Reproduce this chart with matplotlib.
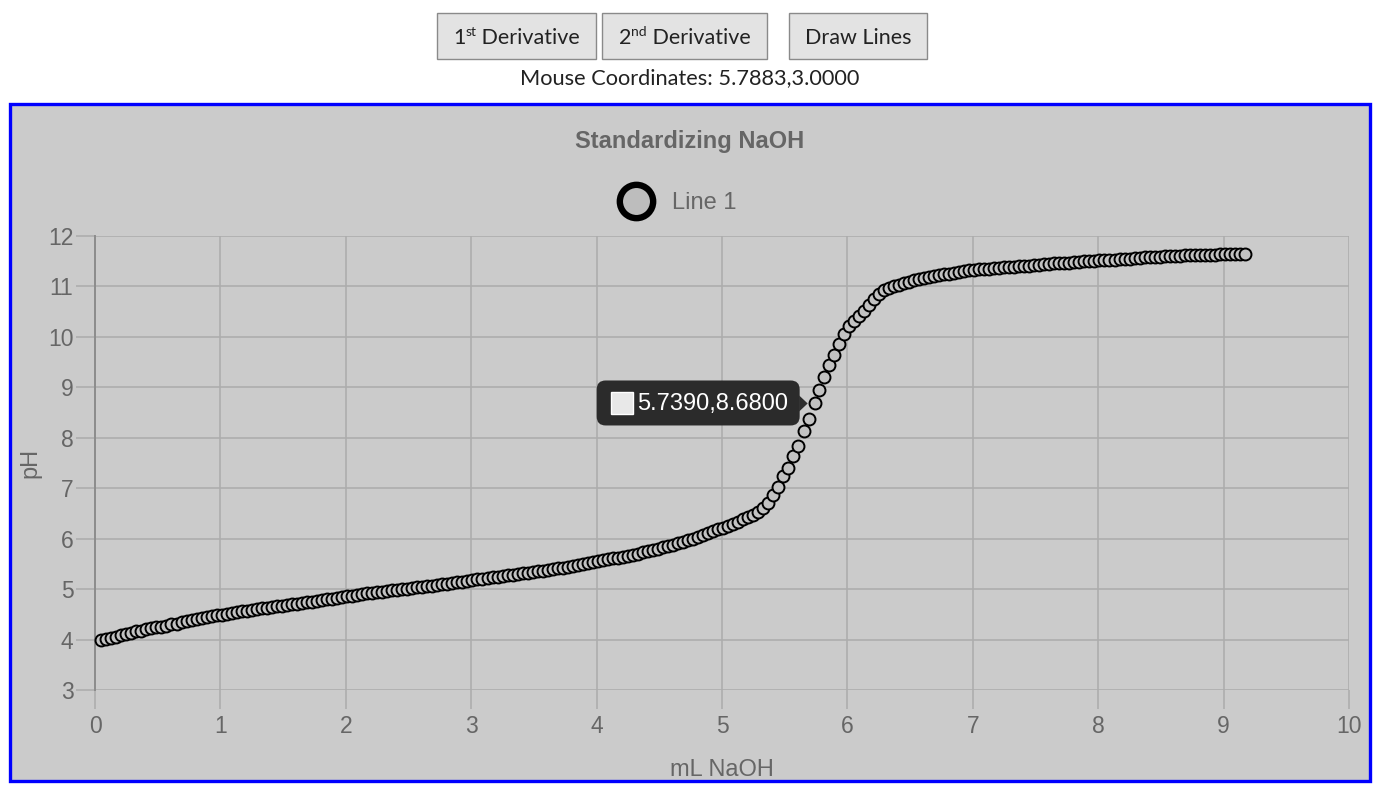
import matplotlib
matplotlib.use('Agg')
import matplotlib.pyplot as plt
from matplotlib.patches import Rectangle, FancyBboxPatch, Polygon
from matplotlib.lines import Line2D
from matplotlib.transforms import IdentityTransform

# ---------------- data ----------------
ml_naoh = [
    0.05, 0.09, 0.13, 0.17, 0.21, 0.25, 0.29, 0.33, 0.37, 0.41,
    0.45, 0.49, 0.53, 0.57, 0.61, 0.65, 0.69, 0.73, 0.77, 0.81,
    0.85, 0.89, 0.93, 0.97, 1.01, 1.05, 1.09, 1.13, 1.17, 1.21,
    1.25, 1.29, 1.33, 1.37, 1.41, 1.45, 1.49, 1.53, 1.57, 1.61,
    1.65, 1.69, 1.73, 1.77, 1.81, 1.85, 1.89, 1.93, 1.97, 2.01,
    2.05, 2.09, 2.13, 2.17, 2.21, 2.25, 2.29, 2.33, 2.37, 2.41,
    2.45, 2.49, 2.53, 2.57, 2.61, 2.65, 2.69, 2.73, 2.77, 2.81,
    2.85, 2.89, 2.93, 2.97, 3.01, 3.05, 3.09, 3.13, 3.17, 3.21,
    3.25, 3.29, 3.33, 3.37, 3.41, 3.45, 3.49, 3.53, 3.57, 3.61,
    3.65, 3.69, 3.73, 3.77, 3.81, 3.85, 3.89, 3.93, 3.97, 4.01,
    4.05, 4.09, 4.13, 4.17, 4.21, 4.25, 4.29, 4.33, 4.37, 4.41,
    4.45, 4.49, 4.53, 4.57, 4.61, 4.65, 4.69, 4.73, 4.77, 4.81,
    4.85, 4.89, 4.93, 4.97, 5.01, 5.05, 5.09, 5.13, 5.17, 5.21,
    5.25, 5.29, 5.33, 5.37, 5.41, 5.45, 5.49, 5.53, 5.57, 5.61,
    5.65, 5.69, 5.739, 5.77, 5.81, 5.85, 5.89, 5.93, 5.97, 6.01,
    6.05, 6.09, 6.13, 6.17, 6.21, 6.25, 6.29, 6.33, 6.37, 6.41,
    6.45, 6.49, 6.53, 6.57, 6.61, 6.65, 6.69, 6.73, 6.77, 6.81,
    6.85, 6.89, 6.93, 6.97, 7.01, 7.05, 7.09, 7.13, 7.17, 7.21,
    7.25, 7.29, 7.33, 7.37, 7.41, 7.45, 7.49, 7.53, 7.57, 7.61,
    7.65, 7.69, 7.73, 7.77, 7.81, 7.85, 7.89, 7.93, 7.97, 8.01,
    8.05, 8.09, 8.13, 8.17, 8.21, 8.25, 8.29, 8.33, 8.37, 8.41,
    8.45, 8.49, 8.53, 8.57, 8.61, 8.65, 8.69, 8.73, 8.77, 8.81,
    8.85, 8.89, 8.93, 8.97, 9.01, 9.05, 9.09, 9.13, 9.17,
]
ph = [
    4.00, 4.02, 4.04, 4.06, 4.09, 4.11, 4.13, 4.16, 4.17, 4.20,
    4.22, 4.24, 4.25, 4.27, 4.30, 4.31, 4.34, 4.36, 4.38, 4.40,
    4.42, 4.44, 4.46, 4.48, 4.49, 4.51, 4.53, 4.54, 4.56, 4.57,
    4.59, 4.60, 4.62, 4.63, 4.64, 4.66, 4.67, 4.69, 4.70, 4.71,
    4.73, 4.74, 4.75, 4.77, 4.78, 4.80, 4.81, 4.83, 4.84, 4.86,
    4.87, 4.89, 4.90, 4.92, 4.93, 4.94, 4.95, 4.97, 4.98, 4.99,
    5.00, 5.01, 5.03, 5.04, 5.05, 5.06, 5.07, 5.08, 5.10, 5.11,
    5.12, 5.14, 5.15, 5.17, 5.19, 5.20, 5.21, 5.22, 5.24, 5.25,
    5.26, 5.27, 5.28, 5.30, 5.31, 5.32, 5.34, 5.35, 5.36, 5.38,
    5.39, 5.41, 5.42, 5.44, 5.46, 5.48, 5.50, 5.52, 5.54, 5.56,
    5.58, 5.59, 5.61, 5.62, 5.64, 5.66, 5.68, 5.70, 5.73, 5.75,
    5.78, 5.80, 5.83, 5.85, 5.88, 5.91, 5.94, 5.97, 6.00, 6.03,
    6.07, 6.11, 6.15, 6.19, 6.22, 6.26, 6.30, 6.34, 6.38, 6.43,
    6.47, 6.52, 6.60, 6.71, 6.86, 7.03, 7.25, 7.40, 7.64, 7.84,
    8.14, 8.38, 8.68, 8.95, 9.20, 9.45, 9.64, 9.86, 10.06, 10.22,
    10.32, 10.42, 10.52, 10.64, 10.76, 10.86, 10.92, 10.96, 11.00, 11.03,
    11.06, 11.09, 11.12, 11.14, 11.16, 11.18, 11.20, 11.22, 11.24, 11.25,
    11.27, 11.29, 11.30, 11.32, 11.33, 11.34, 11.35, 11.35, 11.36, 11.37,
    11.38, 11.38, 11.39, 11.40, 11.41, 11.41, 11.42, 11.43, 11.44, 11.45,
    11.46, 11.46, 11.47, 11.47, 11.48, 11.49, 11.50, 11.50, 11.51, 11.52,
    11.52, 11.53, 11.53, 11.54, 11.55, 11.55, 11.56, 11.57, 11.58, 11.58,
    11.59, 11.59, 11.60, 11.60, 11.60, 11.61, 11.62, 11.62, 11.62, 11.63,
    11.63, 11.63, 11.63, 11.64, 11.64, 11.64, 11.64, 11.64, 11.64,
]
x_ticks = [0, 1, 2, 3, 4, 5, 6, 7, 8, 9, 10]
y_ticks = [3, 4, 5, 6, 7, 8, 9, 10, 11, 12]
series_name = 'Line 1'
chart_title = 'Standardizing NaOH'
x_label = 'mL NaOH'
y_label = 'pH'
tooltip_point = (5.739, 8.68)
tooltip_text = '5.7390,8.6800'
mouse_text = 'Mouse Coordinates: 5.7883,3.0000'

# ---------------- figure ----------------
W, H = 1385, 794
fig = plt.figure(figsize=(W / 100, H / 100), dpi=100)
fig.patch.set_facecolor('white')
CHART_FONT = ['Liberation Sans', 'DejaVu Sans']
UI_FONT = ['Lato', 'DejaVu Sans']
GRAY = '#666666'
ident = IdentityTransform()


def fx(px):
    return px / W


def fy(py):
    return 1 - py / H


# gray panel with blue border (drawn in pixel coordinates, behind the axes)
panel = Rectangle((10, H - 781), 1360, 677, transform=ident,
                  facecolor='#cbcbcb', edgecolor='#0000ff', linewidth=2.4,
                  zorder=-10)
fig.add_artist(panel)

ax = fig.add_axes([fx(95), fy(690), fx(1349) - fx(95), fy(236) - fy(690)])
ax.set_zorder(1)
ax.set_facecolor('none')
ax.set_xlim(x_ticks[0], x_ticks[-1])
ax.set_ylim(y_ticks[0], y_ticks[-1])
ax.set_xticks(x_ticks)
ax.set_yticks(y_ticks)
ax.grid(True, color='#adadad', linewidth=1.2)
ax.set_axisbelow(True)
for s in ['top', 'right', 'bottom']:
    ax.spines[s].set_visible(False)
ax.spines['left'].set_color('#8c8c8c')
ax.spines['left'].set_linewidth(1.4)
ax.tick_params(axis='both', length=14, width=1.2, color='#adadad',
               labelcolor=GRAY, labelsize=16.5)
ax.tick_params(axis='y', pad=1.5)
ax.tick_params(axis='x', pad=4)
for lab in ax.get_xticklabels() + ax.get_yticklabels():
    lab.set_family(CHART_FONT)

ax.plot(ml_naoh, ph, linestyle='none', marker='o', markersize=8.6,
        markerfacecolor='#c2c2c2', markeredgecolor='black',
        markeredgewidth=1.4, label=series_name, clip_on=False, zorder=3)

title = ax.set_title(chart_title, y=(690 - 148) / 454, pad=0, fontsize=17,
                     fontweight='bold', color=GRAY, family=CHART_FONT)
title.set_x((690 - 95) / 1254)
ax.set_xlabel(x_label, fontsize=17, color=GRAY, family=CHART_FONT)
ax.xaxis.set_label_coords(0.5, (690 - 759) / 454)
ax.set_ylabel(y_label, fontsize=17, color=GRAY, family=CHART_FONT)
ax.yaxis.set_label_coords((41 - 95) / 1254, 0.5)

handle = Line2D([], [], linestyle='none', marker='o', markersize=24,
                markerfacecolor='#bdbdbd', markeredgecolor='black',
                markeredgewidth=4.6)
leg = ax.legend(handles=[handle], labels=[series_name], loc='center',
                bbox_to_anchor=(fx(677.5), fy(203)),
                bbox_transform=fig.transFigure, frameon=False,
                prop={'family': CHART_FONT, 'size': 17},
                labelcolor=GRAY, handlelength=1.5, handletextpad=0.75)

# ---------------- tooltip ----------------
px, py = ax.transData.transform(tooltip_point)
box = FancyBboxPatch((px - 218, py - 22), 203, 45,
                     boxstyle='round,pad=0,rounding_size=9',
                     transform=ident, facecolor='#2b2b2b', edgecolor='none',
                     zorder=10)
fig.add_artist(box)
caret = Polygon([(px - 15.5, py + 8), (px - 7, py), (px - 15.5, py - 8)],
                closed=True, transform=ident, facecolor='#2b2b2b',
                edgecolor='none', zorder=10)
fig.add_artist(caret)
swatch = Rectangle((px - 204, py - 11), 22, 22, transform=ident,
                   facecolor='#e8e8e8', edgecolor='#ffffff', linewidth=1,
                   zorder=11)
fig.add_artist(swatch)
fig.text(px - 178, py - 1, tooltip_text, transform=ident, ha='left',
         va='center', color='white', fontsize=17, family=CHART_FONT,
         zorder=12)

# ---------------- buttons ----------------
renderer = fig.canvas.get_renderer()


def button(x0, x1, y0, y1, segs):
    rect = Rectangle((x0, H - y1), x1 - x0, y1 - y0, transform=ident,
                     facecolor='#e3e3e3', edgecolor='#8a8a8a',
                     linewidth=1.0, zorder=2)
    fig.add_artist(rect)
    arts = []
    for s, size, dy in segs:
        t = fig.text(0, 0, s, transform=ident, fontsize=size, family=UI_FONT,
                     color='#222222', ha='left', va='baseline', zorder=3)
        arts.append((t, dy))
    widths = [t.get_window_extent(renderer).width for t, _ in arts]
    cx = (x0 + x1) / 2
    x = cx - sum(widths) / 2
    base = H - 44.5
    for (t, dy), w in zip(arts, widths):
        t.set_position((x, base + dy))
        x += w


button(437, 596, 13, 59, [('1', 15.5, 0), ('st', 10, 8), (' Derivative', 15.5, 0)])
button(602, 767, 13, 59, [('2', 15.5, 0), ('nd', 10, 8), (' Derivative', 15.5, 0)])
button(789, 927, 13, 59, [('Draw Lines', 15.5, 0)])

fig.text(690 / W, 1 - 84.5 / H, mouse_text, ha='center', va='baseline',
         fontsize=15.7, family=UI_FONT, color='#222222')

fig.savefig('out.png', dpi=100, facecolor='white')
